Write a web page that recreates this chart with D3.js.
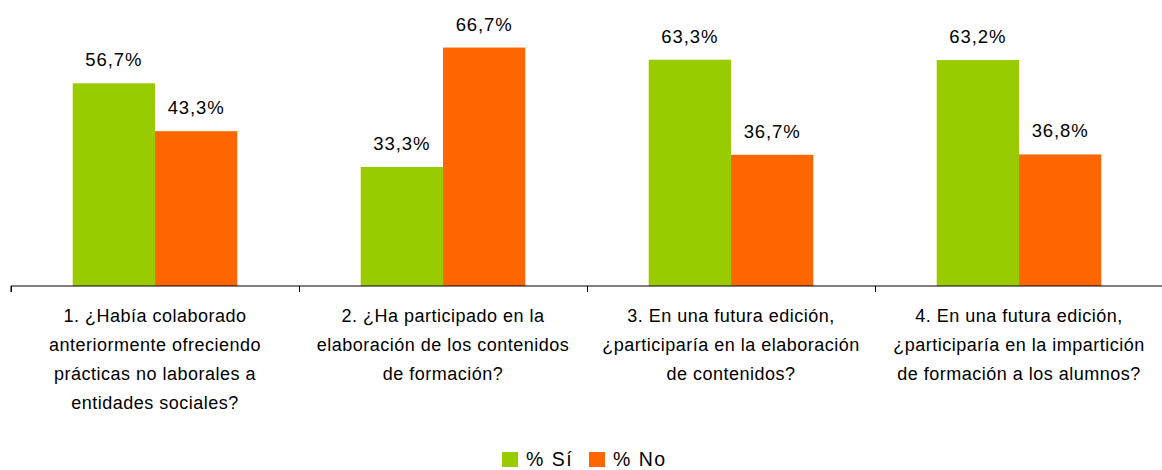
<!DOCTYPE html>
<html>
<head>
<meta charset="utf-8">
<script src="https://cdn.jsdelivr.net/npm/d3@7"></script>
<style>
  body { margin: 0; background: #fff; }
  text { font-family: "Liberation Sans", Arial, sans-serif; fill: #000; }
</style>
</head>
<body>
<div id="chart"></div>
<script>
// categories (each line of the question label)
var categories = [
  ["1. ¿Había colaborado", "anteriormente ofreciendo", "prácticas no laborales a", "entidades sociales?"],
  ["2. ¿Ha participado en la", "elaboración de los contenidos", "de formación?"],
  ["3. En una futura edición,", "¿participaría en la elaboración", "de contenidos?"],
  ["4. En una futura edición,", "¿participaría en la impartición", "de formación a los alumnos?"]
];
var seriesNames = ["% Sí", "% No"];
var siValues = [56.7, 33.3, 63.3, 63.2];
var noValues = [43.3, 66.7, 36.7, 36.8];
var colors = ["#99CC00", "#FF6600"];

var width = 1162, height = 470;
var margin = {top: 0, left: 11, right: 0};
var baseY = 286;

var svg = d3.select("#chart").append("svg")
    .attr("width", width)
    .attr("height", height);

// x scale over the categories
var x0 = d3.scaleBand()
    .domain(d3.range(categories.length))
    .range([margin.left, margin.left + 4 * 288])
    .paddingInner(0)
    .paddingOuter(0);

var x1 = d3.scaleBand()
    .domain([0, 1])
    .range([0, x0.bandwidth()])
    .paddingInner(0)
    .paddingOuter(0.75);

var y = d3.scaleLinear()
    .domain([0, 80])
    .range([baseY, 0]);

var nf = function(v) { return v.toFixed(1).replace(".", ",") + "%"; };

var data = categories.map(function(c, i) {
  return [siValues[i], noValues[i]];
});

var groups = svg.selectAll(".group")
    .data(data)
  .enter().append("g")
    .attr("class", "group")
    .attr("transform", function(d, i) { return "translate(" + x0(i) + ",0)"; });

groups.selectAll("rect")
    .data(function(d) { return d; })
  .enter().append("rect")
    .attr("x", function(d, j) { return x1(j); })
    .attr("y", function(d) { return y(d); })
    .attr("width", x1.bandwidth())
    .attr("height", function(d) { return baseY - y(d); })
    .style("fill", function(d, j) { return colors[j]; });

// value labels
groups.selectAll(".val")
    .data(function(d) { return d; })
  .enter().append("text")
    .attr("class", "val")
    .attr("x", function(d, j) { return x1(j) + x1.bandwidth() / 2; })
    .attr("y", function(d) { return y(d) - 17; })
    .style("text-anchor", "middle")
    .style("font-size", "18.5px")
    .style("letter-spacing", "0.9px")
    .text(nf);

// axis line
var ax = svg.append("g")
    .attr("transform", "translate(0," + baseY + ")");
ax.append("path")
    .attr("fill", "none")
    .attr("stroke", "#000")
    .attr("d", "M" + x0.range()[0] + ",6V0H" + x0.range()[1] + "V6");
// ticks at category boundaries, not centers
x0.domain().forEach(function(i) {
  ax.append("line")
    .attr("x1", x0(i) + 0.5).attr("x2", x0(i) + 0.5)
    .attr("y1", 0).attr("y2", 6)
    .attr("stroke", "#000");
});

// category labels
groups.each(function(d, i) {
  var t = d3.select(this).append("text")
      .attr("x", x0.bandwidth() / 2)
      .attr("y", 322)
      .style("text-anchor", "middle")
      .style("font-size", "18px")
      .style("letter-spacing", "0.5px");
  categories[i].forEach(function(line, k) {
    t.append("tspan")
      .attr("x", x0.bandwidth() / 2)
      .attr("dy", k === 0 ? 0 : 29)
      .text(line);
  });
});

// legend
var legend = svg.append("g").attr("transform", "translate(502,452)");
var lx = [0, 87];
seriesNames.forEach(function(s, j) {
  legend.append("rect")
    .attr("x", lx[j]).attr("y", 0)
    .attr("width", 16).attr("height", 15)
    .style("fill", colors[j]);
  legend.append("text")
    .attr("x", lx[j] + 24).attr("y", 14)
    .style("font-size", "19.5px")
    .style("letter-spacing", "1.5px")
    .text(s);
});
</script>
</body>
</html>
